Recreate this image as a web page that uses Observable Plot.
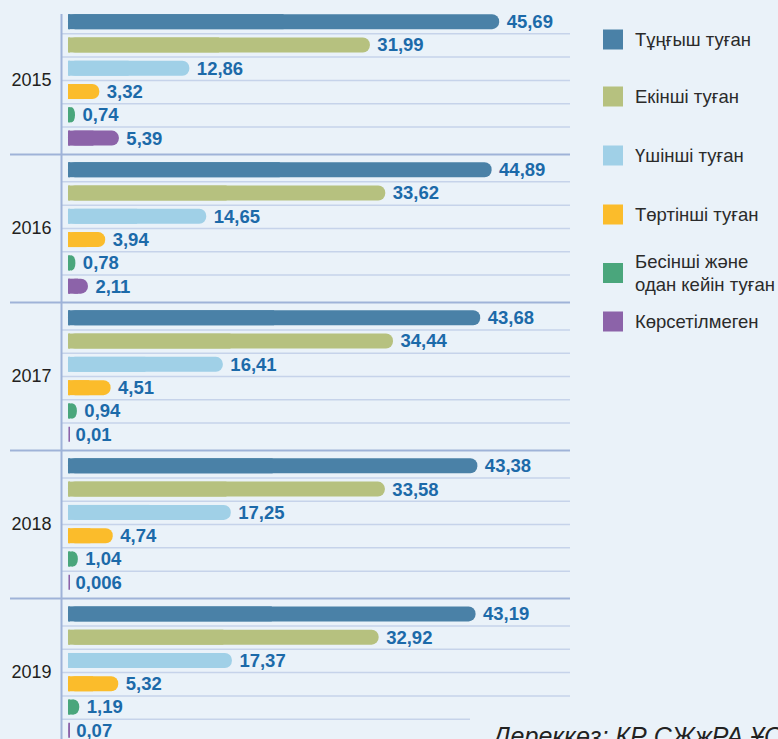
<!DOCTYPE html>
<html><head><meta charset="utf-8">
<script src="https://cdn.jsdelivr.net/npm/d3@7"></script>
<script src="https://cdn.jsdelivr.net/npm/@observablehq/plot@0.6"></script>
<style>
html,body{margin:0;padding:0;background:#eaf2f9;}
body{width:778px;height:739px;overflow:hidden;position:relative;font-family:"Liberation Sans",Arial,sans-serif;}
#chart{position:absolute;left:0;top:0;}
.item{position:absolute;left:603px;display:flex;align-items:center;transform:translateY(-50%);}
.sw{width:20px;height:20px;flex:none;}
.lab{margin-left:12px;font-size:18.5px;color:#2b2b2b;line-height:23px;white-space:nowrap;}
#caption{position:absolute;left:470px;top:712px;width:308px;height:40px;background:#eaf2f9;padding-left:23px;padding-top:10px;box-sizing:border-box;font-style:italic;font-size:25px;color:#222;white-space:nowrap;overflow:hidden;}
</style></head>
<body>
<div id="chart"></div><div id="legend"></div><div id="caption"></div>
<script>
const years = ["2015", "2016", "2017", "2018", "2019"];
const categories = ["Тұңғыш туған", "Екінші туған", "Үшінші туған", "Төртінші туған", "Бесінші және одан кейін туған", "Көрсетілмеген"];
const legendLines = [["Тұңғыш туған"], ["Екінші туған"], ["Үшінші туған"], ["Төртінші туған"], ["Бесінші және", "одан кейін туған"], ["Көрсетілмеген"]];
const colors = ["#4a81a7", "#b6c17f", "#a0d0e7", "#fbbc2b", "#4aa67c", "#8c63a9"];
const values2015 = [45.69, 31.99, 12.86, 3.32, 0.74, 5.39];
const values2016 = [44.89, 33.62, 14.65, 3.94, 0.78, 2.11];
const values2017 = [43.68, 34.44, 16.41, 4.51, 0.94, 0.01];
const values2018 = [43.38, 33.58, 17.25, 4.74, 1.04, 0.006];
const values2019 = [43.19, 32.92, 17.37, 5.32, 1.19, 0.07];
const caption = "Дереккөз: ҚР СЖжРА ҰСБ";

const series = [values2015, values2016, values2017, values2018, values2019];
const data = years.flatMap((year, yi) => categories.map((cat, ci) => ({year, cat, value: series[yi][ci]})));
const fmt = v => String(v).replace(".", ",");
const lastCat = categories[categories.length - 1];
const font = '"Liberation Sans", Arial, sans-serif';
const barInset = 4.15;
const gridColor = "#c6d3ea";
const axisColor = "#9fb3d8";

const chart = Plot.plot({
  width: 570,
  height: 745,
  marginTop: 10,
  marginBottom: 3,
  marginLeft: 61,
  marginRight: 0,
  style: {background: "transparent", fontFamily: font, fontSize: "18px", color: "#231f20"},
  x: {domain: [0, 53.2], insetLeft: 7, axis: null},
  y: {domain: categories, padding: 0, round: false, axis: null},
  fy: {domain: years, paddingInner: 0.056, paddingOuter: 0, round: false, axis: "left", label: null, tickSize: 0, tickPadding: 10},
  color: {domain: categories, range: colors},
  marks: [
    Plot.ruleY(data.filter(d => d.cat !== lastCat), {y: "cat", fy: "year", dy: 11.65, stroke: gridColor, strokeWidth: 1.5}),
    Plot.ruleY(data.filter(d => d.cat === lastCat), {y: "cat", fy: "year", dy: 15.8, insetLeft: -51, stroke: axisColor, strokeWidth: 2}),
    Plot.ruleX(years.slice(0, 1).map(year => ({year})), {x: 0, fy: "year", dx: -7, insetTop: 4, insetBottom: -4.2, stroke: axisColor, strokeWidth: 2}),
    Plot.ruleX(years.slice(1).map(year => ({year})), {x: 0, fy: "year", dx: -7, insetTop: -4.2, insetBottom: -4.2, stroke: axisColor, strokeWidth: 2}),
    Plot.tickX(data, {x: 0, y: "cat", fy: "year", stroke: "cat", dx: 0.75, strokeWidth: 1.5, insetTop: barInset, insetBottom: barInset}),
    Plot.barX(data, {x1: 0, x2: d => d.value / 2, y: "cat", fy: "year", fill: "cat", insetTop: barInset, insetBottom: barInset}),
    Plot.barX(data, {x: "value", y: "cat", fy: "year", fill: "cat", insetTop: barInset, insetBottom: barInset, rx: 7}),
    Plot.text(data, {x: "value", y: "cat", fy: "year", text: d => fmt(d.value), dx: 7, textAnchor: "start", fill: "#1c6aa9", fontWeight: "bold", fontSize: 18.5, fontFamily: font})
  ]
});
document.getElementById("chart").appendChild(chart);

const legendCenters = [39, 96, 155, 214, 273, 321];
const legend = document.getElementById("legend");
legendLines.forEach((lines, i) => {
  const item = document.createElement("div");
  item.className = "item";
  item.style.top = legendCenters[i] + "px";
  const sw = document.createElement("div");
  sw.className = "sw";
  sw.style.background = colors[i];
  const lab = document.createElement("div");
  lab.className = "lab";
  lab.innerHTML = lines.join("<br>");
  item.appendChild(sw);
  item.appendChild(lab);
  legend.appendChild(item);
});
document.getElementById("caption").textContent = caption;
</script>
</body></html>
